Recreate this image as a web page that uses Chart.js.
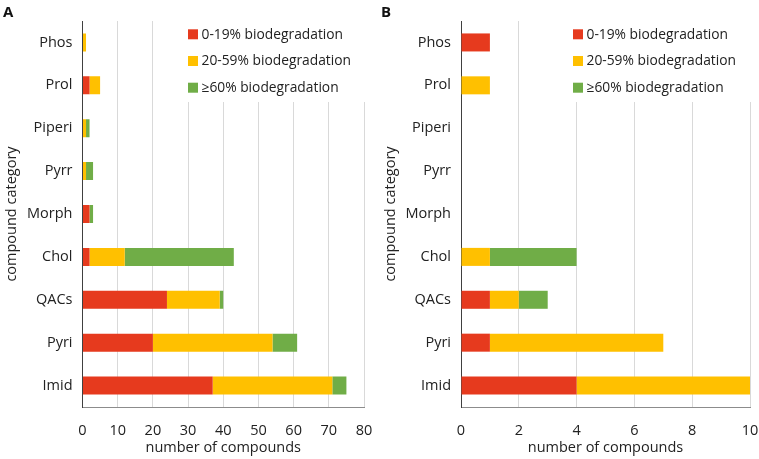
<!DOCTYPE html>
<html>
<head>
<meta charset="utf-8">
<script src="https://cdn.jsdelivr.net/npm/chart.js@4"></script>
<style>
    body { margin: 0; background: #fff; }
    #wrap { position: relative; width: 759px; height: 459px; overflow: hidden; }
    .panel { position: absolute; top: 0; height: 459px; }
    .letter { position: absolute; top: 1px; font: bold 15px "Open Sans", sans-serif; color: #111; }
</style>
</head>
<body>
<div id="wrap">
    <div class="panel" style="left:0;width:379px;"><canvas id="chartA"></canvas></div>
    <div class="panel" style="left:379px;width:380px;"><canvas id="chartB"></canvas></div>
    <div class="letter" style="left:3px;">A</div>
    <div class="letter" style="left:381px;">B</div>
</div>
<script>
// Chart data
const categories = ['Phos', 'Prol', 'Piperi', 'Pyrr', 'Morph', 'Chol', 'QACs', 'Pyri', 'Imid'];
const seriesLabels = ['0-19% biodegradation', '20-59% biodegradation', '\u226560% biodegradation'];

// Panel A
const lowA = [0, 2, 0, 0, 2, 2, 24, 20, 37];
const midA = [1, 3, 1, 1, 0, 10, 15, 34, 34];
const highA = [0, 0, 1, 2, 1, 31, 1, 7, 4];
const maxA = 80;
const stepA = 10;

// Panel B
const lowB = [1, 0, 0, 0, 0, 0, 1, 1, 4];
const midB = [0, 1, 0, 0, 0, 1, 1, 6, 6];
const highB = [0, 0, 0, 0, 0, 3, 1, 0, 0];
const maxB = 10;
const stepB = 2;

const colors = ['#E63A1E', '#FFC000', '#70AD47'];
const textColor = '#222222';
const fontFamily = '"Open Sans", sans-serif';

// Legend drawn inside the plot area, on a white box over the gridlines
const insideLegend = {
    id: 'insideLegend',
    afterDraw(chart, args, opts) {
        const ctx = chart.ctx;
        const area = chart.chartArea;
        ctx.save();
        ctx.fillStyle = '#fff';
        ctx.fillRect(opts.x - 3, area.top, area.right - opts.x + 4, 81);
        ctx.font = '13.8px ' + fontFamily;
        ctx.textBaseline = 'middle';
        ctx.textAlign = 'left';
        chart.data.datasets.forEach((ds, i) => {
            const cy = area.top + 13.3 + i * 26.7;
            ctx.fillStyle = ds.backgroundColor;
            ctx.fillRect(opts.x, cy - 5, 10, 10);
            ctx.fillStyle = textColor;
            ctx.fillText(ds.label, opts.x + 13.5, cy + 0.5);
        });
        ctx.restore();
    }
};

function makeChart(canvasId, low, mid, high, max, step, yWidth, rightPad, legendX) {
    const ctx = document.getElementById(canvasId).getContext('2d');
    const values = [low, mid, high];

    return new Chart(ctx, {
        type: 'bar',
        data: {
            labels: categories,
            datasets: values.map((v, i) => ({
                label: seriesLabels[i],
                data: v,
                backgroundColor: colors[i],
                borderWidth: 0,
                barPercentage: 0.42,
                categoryPercentage: 1
            }))
        },
        options: {
            indexAxis: 'y',
            responsive: true,
            maintainAspectRatio: false,
            animation: false,
            layout: {
                padding: { top: 21, right: rightPad, left: 0, bottom: 0 }
            },
            plugins: {
                legend: { display: false },
                tooltip: { enabled: false },
                insideLegend: { x: legendX }
            },
            scales: {
                x: {
                    stacked: true,
                    min: 0,
                    max: max,
                    afterFit: function(scale) {
                        scale.height = 52;
                        // keep the plot edges fixed, the layout padding leaves room for the end labels
                        scale.paddingLeft = 0;
                        scale.paddingRight = 0;
                    },
                    ticks: {
                        stepSize: step,
                        color: textColor,
                        padding: 15,
                        maxRotation: 0,
                        font: { family: fontFamily, size: 14.5 }
                    },
                    grid: {
                        color: '#d9d9d9',
                        drawTicks: false
                    },
                    border: { color: '#8c8c8c' },
                    title: {
                        display: true,
                        text: 'number of compounds',
                        color: textColor,
                        padding: { top: 0, bottom: 2 },
                        font: { family: fontFamily, size: 14.5 }
                    }
                },
                y: {
                    stacked: true,
                    afterFit: function(scale) { scale.width = yWidth; },
                    ticks: {
                        color: textColor,
                        padding: 10,
                        font: { family: fontFamily, size: 14.5 }
                    },
                    grid: { display: false, drawTicks: false },
                    border: { color: '#404040' },
                    title: {
                        display: true,
                        text: 'compound category',
                        color: textColor,
                        padding: { top: 3, bottom: 0 },
                        font: { family: fontFamily, size: 14.5 }
                    }
                }
            }
        },
        plugins: [insideLegend]
    });
}

makeChart('chartA', lowA, midA, highA, maxA, stepA, 82.5, 15, 188);
makeChart('chartB', lowB, midB, highB, maxB, stepB, 82, 9, 194);
</script>
</body>
</html>
